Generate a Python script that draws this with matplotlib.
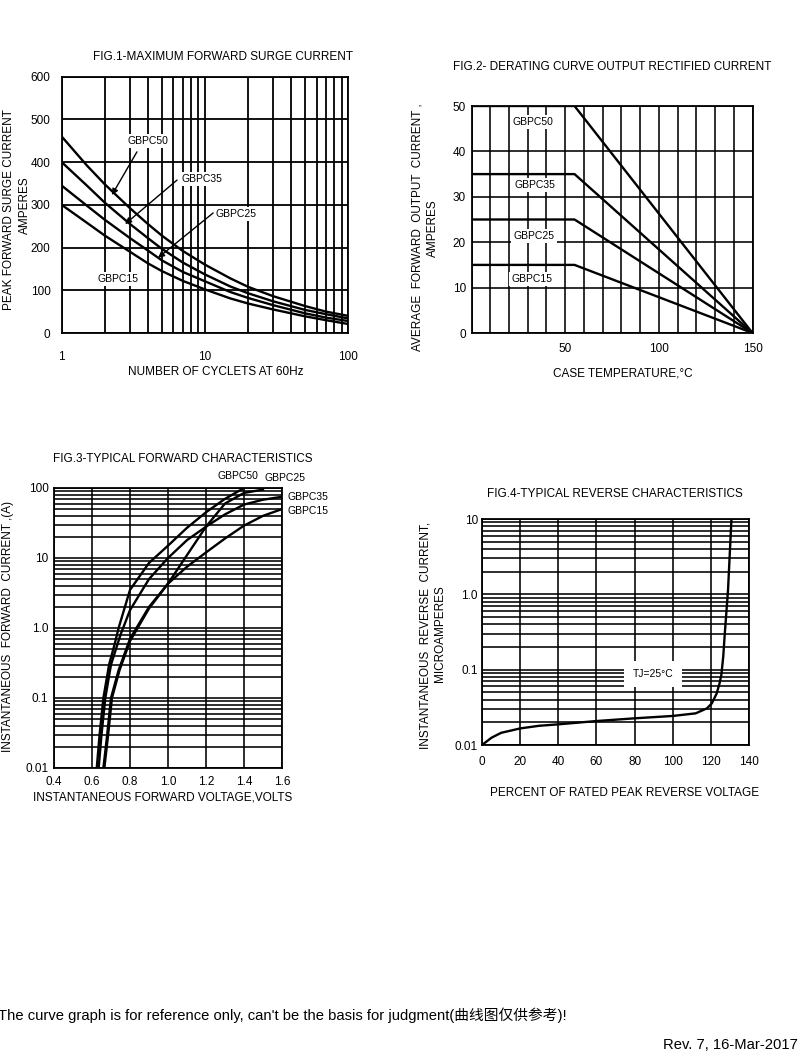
import numpy as np
import matplotlib
matplotlib.use("Agg")
import matplotlib.pyplot as plt

plt.rcParams['font.family'] = ['Liberation Sans', 'Noto Sans CJK SC', 'DejaVu Sans']
plt.rcParams['font.size'] = 8.5

W, H = 800, 1056

# ---- FIG.1 data: surge current vs cycles ----
cycles = [1, 1.5, 2, 3, 4, 5, 7, 10, 15, 20, 30, 50, 70, 100]
surge_50 = [460, 392, 348, 292, 255, 228, 192, 160, 128, 108, 86, 63, 50, 40]
surge_35 = [400, 345, 305, 255, 222, 197, 165, 137, 109, 93, 74, 54, 44, 34]
surge_25 = [345, 298, 265, 222, 193, 170, 143, 121, 96, 82, 65, 46, 36, 28]
surge_15 = [300, 258, 228, 190, 163, 145, 122, 102, 81, 69, 55, 39, 30, 21]

# ---- FIG.2 data: derating ----
temp_pts = [0, 55, 150]
derate_50 = [50, 50, 0]
derate_35 = [35, 35, 0]
derate_25 = [25, 25, 0]
derate_15 = [15, 15, 0]

# ---- FIG.3 data: forward characteristics ----
vf_50 = [0.625, 0.64, 0.66, 0.69, 0.72, 0.74, 0.80, 0.90, 1.00, 1.10, 1.20, 1.30, 1.40]
if_50 = [0.01, 0.03, 0.1, 0.3, 0.6, 1.0, 3.5, 8.5, 15, 27, 45, 70, 100]
vf_35 = [0.635, 0.65, 0.67, 0.70, 0.75, 0.80, 0.85, 0.90, 1.00, 1.10, 1.20, 1.30, 1.40, 1.50, 1.60]
if_35 = [0.01, 0.03, 0.1, 0.3, 0.8, 1.8, 3.0, 5.0, 10, 18, 28, 42, 58, 68, 75]
vf_25 = [0.66, 0.68, 0.70, 0.74, 0.80, 0.90, 1.00, 1.10, 1.20, 1.30, 1.40, 1.50]
if_25 = [0.01, 0.03, 0.1, 0.25, 0.7, 2.0, 4.3, 11, 28, 60, 85, 95]
vf_15 = [0.665, 0.685, 0.705, 0.745, 0.80, 0.90, 1.00, 1.10, 1.20, 1.30, 1.40, 1.50, 1.60]
if_15 = [0.01, 0.03, 0.1, 0.25, 0.65, 1.9, 4.3, 7.5, 12, 19, 29, 40, 50]

# ---- FIG.4 data: reverse characteristics ----
vr_pct = [0, 5, 10, 20, 30, 40, 60, 80, 100, 112, 118, 120.5, 123, 124.5, 125.5, 126.5, 127.3, 129, 130.8]
ir_ua = [0.01, 0.0125, 0.0145, 0.0166, 0.018, 0.0188, 0.0208, 0.0226, 0.0243, 0.0263,
         0.0307, 0.0357, 0.048, 0.065, 0.085, 0.15, 0.30, 1.14, 10]

fig = plt.figure(figsize=(W / 100, H / 100), dpi=100)


def box(l, t, r, b):
    return [l / W, 1 - b / H, (r - l) / W, (b - t) / H]


def ftext(x, y, s, **kw):
    fig.text(x / W, 1 - y / H, s, **kw)


def style(ax, glw=1.15):
    for sp in ax.spines.values():
        sp.set_linewidth(1.3)
    ax.tick_params(which='both', length=0)
    ax.grid(True, which='both', color='black', linewidth=glw)
    ax.set_axisbelow(True)


LBL = 7.5  # in-plot curve labels are a bit smaller
lbl_box = dict(facecolor='white', edgecolor='none', pad=1.5)
curve_kw = dict(color='black', linewidth=1.7)

# ================= FIG.1 =================
ax1 = fig.add_axes(box(61.7, 76.7, 348.3, 333))
ax1.set_xscale('log')
ax1.set_xlim(1, 100)
ax1.set_ylim(0, 600)
ax1.set_yticks(range(0, 601, 100))
ax1.set_xticks([1, 10, 100])
ax1.set_xticklabels(['1', '10', '100'])
style(ax1, 1.3)
ax1.tick_params(axis='x', pad=13)
ax1.tick_params(axis='y', pad=8)
for ys in (surge_50, surge_35, surge_25, surge_15):
    ax1.plot(cycles, ys, **curve_kw)
arw = dict(arrowstyle='-|>', color='black', linewidth=1.0, mutation_scale=9, shrinkA=0, shrinkB=0)
ax1.annotate('', xy=(2.24, 323), xytext=(3.35, 424), arrowprops=arw)
ax1.annotate('', xy=(2.77, 255), xytext=(6.38, 358), arrowprops=arw)
ax1.annotate('', xy=(4.7, 176), xytext=(11.4, 281), arrowprops=arw)
ax1.text(4.0, 449, 'GBPC50', ha='center', va='center', bbox=lbl_box, fontsize=LBL)
ax1.text(9.5, 360, 'GBPC35', ha='center', va='center', bbox=lbl_box, fontsize=LBL)
ax1.text(16.5, 279, 'GBPC25', ha='center', va='center', bbox=lbl_box, fontsize=LBL)
ax1.text(2.47, 126, 'GBPC15', ha='center', va='center', bbox=lbl_box, fontsize=LBL)
ftext(223, 57, 'FIG.1-MAXIMUM FORWARD SURGE CURRENT', ha='center', va='center')
ftext(216, 372, 'NUMBER OF CYCLETS AT 60Hz', ha='center', va='center')
ftext(9, 210, 'PEAK FORWARD SURGE CURRENT', rotation=90, ha='center', va='center')
ftext(25, 205, 'AMPERES', rotation=90, ha='center', va='center')

# ================= FIG.2 =================
ax2 = fig.add_axes(box(471.5, 106, 752.5, 333))
ax2.set_xlim(0, 150)
ax2.set_ylim(0, 50)
ax2.set_xticks(range(0, 151, 10))
ax2.set_xticklabels(['50' if v == 50 else '100' if v == 100 else '150' if v == 150 else ''
                     for v in range(0, 151, 10)])
ax2.set_yticks(range(0, 51, 10))
style(ax2)
ax2.tick_params(axis='x', pad=7)
ax2.tick_params(axis='y', pad=4)
for ys in (derate_50, derate_35, derate_25, derate_15):
    ax2.plot(temp_pts, ys, **curve_kw)
ax2.text(32.8, 46.5, 'GBPC50', ha='center', va='center', bbox=lbl_box, fontsize=LBL)
ax2.text(33.9, 32.6, 'GBPC35', ha='center', va='center', bbox=lbl_box, fontsize=LBL)
ax2.text(33.4, 21.4, 'GBPC25', ha='center', va='center', bbox=lbl_box, fontsize=LBL)
ax2.text(32.3, 11.9, 'GBPC15', ha='center', va='center', bbox=lbl_box, fontsize=LBL)
ftext(612, 67, 'FIG.2- DERATING CURVE OUTPUT RECTIFIED CURRENT', ha='center', va='center')
ftext(623, 373, 'CASE TEMPERATURE,\u00b0C', ha='center', va='center')
ftext(418, 227, 'AVERAGE  FORWARD  OUTPUT  CURRENT ,', rotation=90, ha='center', va='center')
ftext(433, 228, 'AMPERES', rotation=90, ha='center', va='center')

# ================= FIG.3 =================
ax3 = fig.add_axes(box(54, 488, 282, 768))
ax3.set_yscale('log')
ax3.set_xlim(0.4, 1.6)
ax3.set_ylim(0.01, 100)
ax3.set_xticks([0.4, 0.6, 0.8, 1.0, 1.2, 1.4, 1.6])
ax3.set_xticklabels(['0.4', '0.6', '0.8', '1.0', '1.2', '1.4', '1.6'])
ax3.set_yticks([0.01, 0.1, 1, 10, 100])
ax3.set_yticklabels(['0.01', '0.1', '1.0', '10', '100'])
ax3.yaxis.set_minor_formatter(matplotlib.ticker.NullFormatter())
style(ax3)
ax3.tick_params(axis='x', pad=6)
ax3.tick_params(axis='y', pad=4)
ax3.plot(vf_50, if_50, **curve_kw)
ax3.plot(vf_35, if_35, **curve_kw)
ax3.plot(vf_25, if_25, **curve_kw)
ax3.plot(vf_15, if_15, **curve_kw)
ftext(238, 476, 'GBPC50', ha='center', va='center', fontsize=LBL)
ftext(285, 478, 'GBPC25', ha='center', va='center', fontsize=LBL)
ftext(287, 497, 'GBPC35', ha='left', va='center', fontsize=LBL)
ftext(287, 511, 'GBPC15', ha='left', va='center', fontsize=LBL)
ftext(183, 459, 'FIG.3-TYPICAL FORWARD CHARACTERISTICS', ha='center', va='center')
ftext(163, 798, 'INSTANTANEOUS FORWARD VOLTAGE,VOLTS', ha='center', va='center')
ftext(8, 626, 'INSTANTANEOUS  FORWARD  CURRENT ,(A)', rotation=90, ha='center', va='center')

# ================= FIG.4 =================
ax4 = fig.add_axes(box(482, 519, 749, 745))
ax4.set_yscale('log')
ax4.set_xlim(0, 140)
ax4.set_ylim(0.01, 10)
ax4.set_xticks(range(0, 141, 20))
ax4.set_yticks([0.01, 0.1, 1, 10])
ax4.set_yticklabels(['0.01', '0.1', '1.0', '10'])
ax4.yaxis.set_minor_formatter(matplotlib.ticker.NullFormatter())
style(ax4)
ax4.tick_params(axis='x', pad=8)
ax4.tick_params(axis='y', pad=3)
ax4.plot(vr_pct, ir_ua, **curve_kw)
ax4.text(89.7, 0.0877, 'TJ=25\u00b0C', ha='center', va='center', fontsize=LBL,
         bbox=dict(facecolor='white', edgecolor='none', pad=6))
ftext(615, 494, 'FIG.4-TYPICAL REVERSE CHARACTERISTICS', ha='center', va='center')
ftext(625, 793, 'PERCENT OF RATED PEAK REVERSE VOLTAGE', ha='center', va='center')
ftext(425, 635, 'INSTANTANEOUS  REVERSE  CURRENT,', rotation=90, ha='center', va='center')
ftext(440, 634, 'MICROAMPERES', rotation=90, ha='center', va='center')

# ---- footer ----
ftext(-2, 1015, "The curve graph is for reference only, can't be the basis for judgment(\u66f2\u7ebf\u56fe\u4ec5\u4f9b\u53c2\u8003)!",
      ha='left', va='center', fontsize=10.6)
ftext(798, 1045, 'Rev. 7, 16-Mar-2017', ha='right', va='center', fontsize=10.6)

fig.savefig('out.png', dpi=100, facecolor='white')
